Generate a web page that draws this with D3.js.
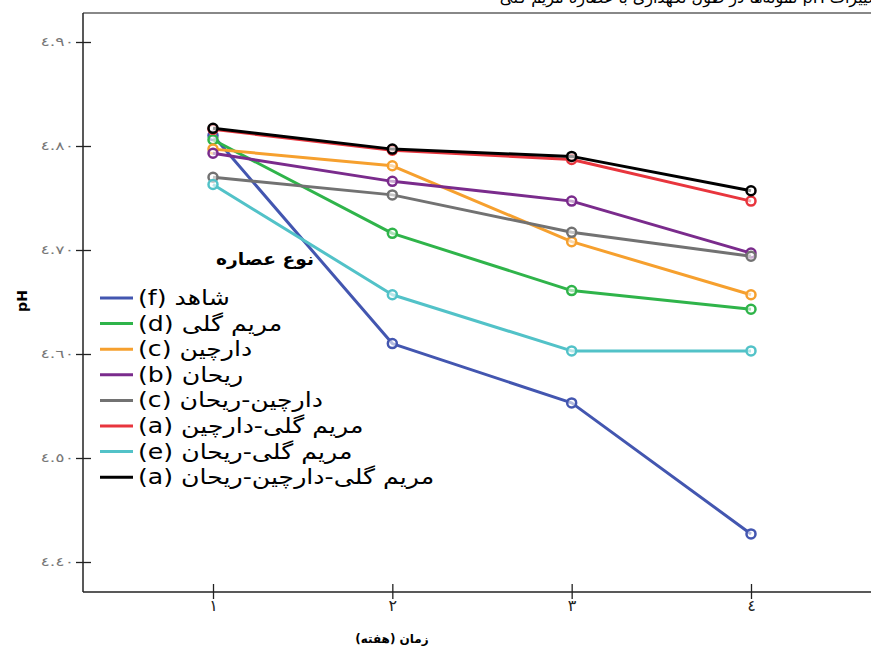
<!DOCTYPE html>
<html>
<head>
<meta charset="utf-8">
<script src="https://cdn.jsdelivr.net/npm/d3@7"></script>
<style>
  body { margin: 0; background: #fff; }
  text { font-family: "DejaVu Sans", sans-serif; }
</style>
</head>
<body>
<script>
// weeks and pH values
const weeks = [1, 2, 3, 4];
const weekLabels = ['١', '٢', '٣', '٤'];
const yTicks = [4.40, 4.50, 4.60, 4.70, 4.80, 4.90];
const yTickLabels = ['٤.٤٠', '٤.٥٠', '٤.٦٠', '٤.٧٠', '٤.٨٠', '٤.٩٠'];

const seriesNames = [
  '(f) شاهد',
  '(d) مریم گلی',
  '(c) دارچین',
  '(b) ریحان',
  '(c) دارچین-ریحان',
  '(a) مریم گلی-دارچین',
  '(e) مریم گلی-ریحان',
  '(a) مریم گلی-دارچین-ریحان'
];
const seriesColors = ['#4356b0', '#2fb44a', '#f6a02e', '#7a2b8c', '#727272', '#e8353d', '#52c2c8', '#000000'];

const shahed = [4.810, 4.610, 4.553, 4.427];
const maryamGoli = [4.806, 4.716, 4.661, 4.643];
const darchin = [4.797, 4.781, 4.708, 4.657];
const reyhan = [4.793, 4.766, 4.747, 4.697];
const darchinReyhan = [4.770, 4.753, 4.717, 4.694];
const maryamDarchin = [4.816, 4.796, 4.787, 4.747];
const maryamReyhan = [4.763, 4.657, 4.603, 4.603];
const maryamDarchinReyhan = [4.817, 4.797, 4.790, 4.757];

const seriesValues = [shahed, maryamGoli, darchin, reyhan, darchinReyhan, maryamDarchin, maryamReyhan, maryamDarchinReyhan];

const W = 871, H = 650;
const svg = d3.select('body').append('svg')
  .attr('width', W)
  .attr('height', H);

// title, mostly cut off at the top of the picture (as in the original)
svg.append('text')
  .attr('x', 880)
  .attr('y', 3)
  .attr('direction', 'rtl')
  .attr('text-anchor', 'start')
  .attr('font-size', 16)
  .text('تغییرات pH نمونه‌ها در طول نگهداری با عصاره مریم گلی');

const x = d3.scaleLinear().domain([1, 4]).range([213, 751]);
const y = d3.scaleLinear().domain([4.40, 4.90]).range([562, 42]);
const plotLeft = 83, plotTop = 13, plotBottom = 592;

// frame
svg.append('line')
  .attr('x1', plotLeft).attr('x2', W)
  .attr('y1', plotTop).attr('y2', plotTop)
  .attr('stroke', '#888').attr('stroke-width', 2);

// y axis
const yAxis = svg.append('g')
  .attr('transform', `translate(${plotLeft},0)`)
  .call(d3.axisLeft(y).tickValues(yTicks).tickSize(7).tickFormat((d, i) => yTickLabels[i]));
yAxis.select('.domain').attr('d', `M0,${plotTop}V${plotBottom}`).attr('stroke', '#222').attr('stroke-width', 1.5);
yAxis.selectAll('.tick line').attr('x1', -7).attr('x2', 8).attr('stroke', '#222').attr('stroke-width', 1.3);
yAxis.selectAll('.tick text')
  .attr('transform', 'translate(-9,0) scale(1.45,1)')
  .attr('x', 0)
  .attr('font-family', '"DejaVu Sans", sans-serif')
  .attr('font-size', 12)
  .attr('fill', '#777');

// x axis
const xAxis = svg.append('g')
  .attr('transform', `translate(0,${plotBottom})`)
  .call(d3.axisBottom(x).tickValues(weeks).tickSize(7).tickFormat((d, i) => weekLabels[i]));
xAxis.select('.domain').attr('d', `M${plotLeft},0H${W}`).attr('stroke', '#222').attr('stroke-width', 1.5);
xAxis.selectAll('.tick line').attr('y1', -8).attr('y2', 7).attr('stroke', '#222').attr('stroke-width', 1.3);
xAxis.selectAll('.tick text')
  .attr('y', 8)
  .attr('font-family', '"DejaVu Serif", "DejaVu Sans", serif')
  .attr('font-size', 16)
  .attr('fill', '#222');

// axis titles
svg.append('text')
  .attr('x', 392).attr('y', 643)
  .attr('text-anchor', 'middle')
  .attr('font-size', 12)
  .attr('font-weight', 'bold')
  .text('زمان (هفته)');

svg.append('text')
  .attr('transform', 'translate(27,301) rotate(-90)')
  .attr('text-anchor', 'middle')
  .attr('font-size', 14)
  .attr('font-weight', 'bold')
  .text('pH');

// lines and markers
const line = d3.line()
  .x((d, i) => x(weeks[i]))
  .y(d => y(d));

const groups = svg.selectAll('.series')
  .data(seriesValues)
  .enter().append('g')
  .attr('class', 'series');

groups.append('path')
  .attr('d', d => line(d))
  .attr('fill', 'none')
  .attr('stroke', (d, i) => seriesColors[i])
  .attr('stroke-width', 3)
  .attr('stroke-linejoin', 'round');

groups.each(function (vals, si) {
  d3.select(this).selectAll('circle')
    .data(vals)
    .enter().append('circle')
    .attr('cx', (d, i) => x(weeks[i]))
    .attr('cy', d => y(d))
    .attr('r', 4.5)
    .attr('fill', '#fff')
    .attr('fill-opacity', 0.6)
    .attr('stroke', seriesColors[si])
    .attr('stroke-width', 2.5);
});

// legend
const legend = svg.append('g');
legend.append('text')
  .attr('transform', 'translate(265,265) scale(1.1,1)')
  .attr('text-anchor', 'middle')
  .attr('font-size', 17)
  .attr('font-weight', 'bold')
  .text('نوع عصاره');

const items = legend.selectAll('.item')
  .data(seriesNames)
  .enter().append('g')
  .attr('class', 'item')
  .attr('transform', (d, i) => `translate(0,${298 + i * 25.6})`);

items.append('line')
  .attr('x1', 100).attr('x2', 133)
  .attr('stroke', (d, i) => seriesColors[i])
  .attr('stroke-width', 3);

items.append('text')
  .attr('transform', 'translate(138,7) scale(1.2,1)')
  .attr('font-size', 21)
  .text(d => d);
</script>
</body>
</html>
